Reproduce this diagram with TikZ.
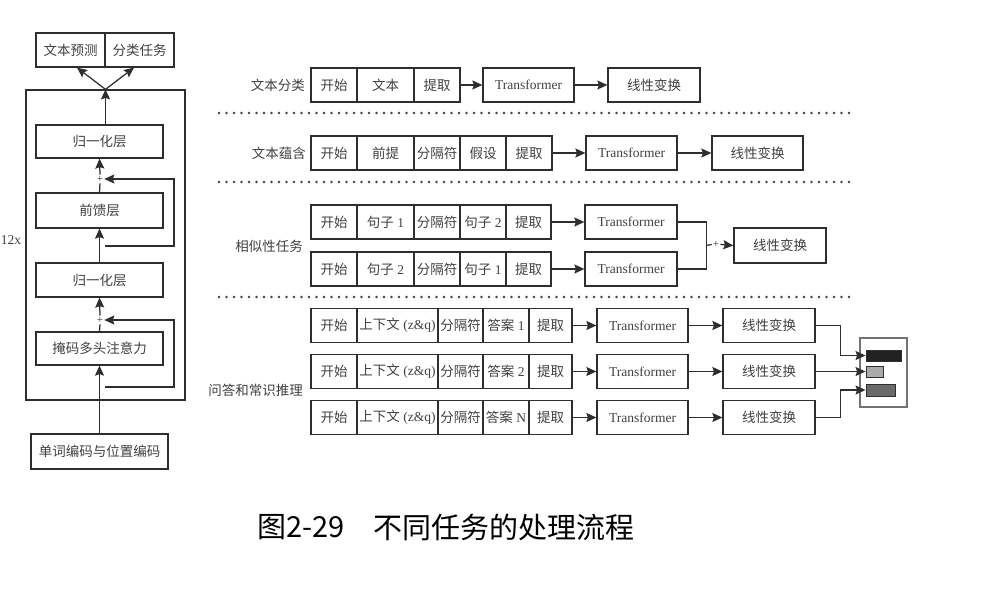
\documentclass[tikz,border=0pt]{standalone}
\usepackage{fontspec}
\setmainfont{Liberation Serif}
\newfontfamily\cjk{Noto Sans CJK SC}
\usetikzlibrary{arrows.meta}
\newcommand\zh[1]{{\cjk #1}}
\definecolor{linec}{HTML}{2E2E2E}
\definecolor{textc}{HTML}{404040}
\definecolor{bardark}{HTML}{222222}
\definecolor{barlight}{HTML}{AAAAAA}
\definecolor{barmid}{HTML}{6A6A6A}
\newcommand\bx[6][]{\node[cell,minimum width=#4pt-#3pt,#1] (#2) at ({(#3+#4)/2},#5) {#6};}
\tikzset{
  cell/.style={draw=linec, line width=1.25pt, inner sep=0pt, minimum height=34pt,
    text=textc, font=\fontsize{13.5}{15}\selectfont},
  lab/.style={inner sep=0pt, text=textc, font=\fontsize{13.5}{15}\selectfont},
  plainline/.style={draw=linec, line width=1.25pt},
  arr/.style={draw=linec, line width=1.25pt, -{Stealth[length=10pt,width=9pt,inset=1.5pt]}},
  plus/.style={inner sep=1pt, text=linec, font=\fontsize{11}{11}\selectfont},
  dots/.style={draw=black!75, line width=2.6pt, line cap=round, dash pattern=on 0pt off 7.5pt},
  bar/.style={draw=linec, line width=0.9pt, inner sep=0pt}
}
\begin{document}
\begin{tikzpicture}[x=1pt,y=-1pt]
\useasboundingbox (0,0) rectangle (982,605);

% ---------- left column ----------
\node[draw=linec, line width=1.25pt, minimum width=159pt, minimum height=310pt, inner sep=0pt] (frame) at (105.5,245) {};
\bx{out1}{36}{105}{50}{\zh{文本预测}}
\bx{out2}{105}{174}{50}{\zh{分类任务}}
\bx[minimum height=33pt]{norm1}{36}{163}{141.5}{\zh{归一化层}}
\bx[minimum height=35pt]{ffn}{36}{163}{210.5}{\zh{前馈层}}
\bx[minimum height=34pt]{norm2}{36}{163}{280}{\zh{归一化层}}
\bx[minimum height=33pt]{attn}{36}{163}{348.5}{\zh{掩码多头注意力}}
\bx[minimum height=35pt]{emb}{31}{168}{451.5}{\zh{单词编码与位置编码}}
\node[plus] (plus1) at (100,179) {+};
\node[plus] (plus2) at (100,320) {+};
\node[inner sep=0pt, text=textc, font=\fontsize{13.5}{15}\selectfont] (rep) at (11,240) {12x};
\coordinate (sk1) at (105,246);
\coordinate (sk2) at (105,387);

\draw[arr] (emb.north) -- (attn.south);
\draw[plainline] (attn.north) -- (plus2.south);
\draw[arr] (plus2.north) -- (norm2.south);
\draw[arr] (sk2) -- ++(69,0) |- (plus2.east);
\draw[arr] (norm2.north) -- (ffn.south);
\draw[plainline] (ffn.north) -- (plus1.south);
\draw[arr] (plus1.north) -- (norm1.south);
\draw[arr] (sk1) -- ++(69,0) |- (plus1.east);
\draw[arr] (norm1.north -| frame.north) -- (frame.north);
\draw[arr] (frame.north) -- ([xshift=6.5pt]out1.south);
\draw[arr] (frame.north) -- ([xshift=-5.5pt]out2.south);

% ---------- dotted separators ----------
\coordinate (d1a) at (219,113); \coordinate (d1b) at (853,113);
\coordinate (d2a) at (219,182); \coordinate (d2b) at (853,182);
\coordinate (d3a) at (219,297); \coordinate (d3b) at (853,297);
\draw[dots] (d1a) -- (d1b);
\draw[dots] (d2a) -- (d2b);
\draw[dots] (d3a) -- (d3b);

% ---------- row 1 ----------
\node[lab, anchor=east] (la) at (305,85) {\zh{文本分类}};
\bx{ra1}{311}{357}{85}{\zh{开始}}
\bx{ra2}{357}{414}{85}{\zh{文本}}
\bx{ra3}{414}{460}{85}{\zh{提取}}
\bx{rat}{483}{574}{85}{Transformer}
\bx{ral}{608}{700}{85}{\zh{线性变换}}
\draw[arr] (ra3.east) -- (rat.west);
\draw[arr] (rat.east) -- (ral.west);

% ---------- row 2 ----------
\node[lab, anchor=east] (lb) at (306,153) {\zh{文本蕴含}};
\bx{rb1}{311}{357}{153}{\zh{开始}}
\bx{rb2}{357}{414}{153}{\zh{前提}}
\bx{rb3}{414}{460}{153}{\zh{分隔符}}
\bx{rb4}{460}{506}{153}{\zh{假设}}
\bx{rb5}{506}{552}{153}{\zh{提取}}
\bx{rbt}{586}{677}{153}{Transformer}
\bx{rbl}{712}{803}{153}{\zh{线性变换}}
\draw[arr] (rb5.east) -- (rbt.west);
\draw[arr] (rbt.east) -- (rbl.west);

% ---------- row 3 ----------
\node[lab, anchor=east] (lc) at (303,246) {\zh{相似性任务}};
\bx{sa1}{311}{357}{222}{\zh{开始}}
\bx{sa2}{357}{414}{222}{\zh{句子} 1}
\bx{sa3}{414}{460}{222}{\zh{分隔符}}
\bx{sa4}{460}{506}{222}{\zh{句子} 2}
\bx{sa5}{506}{551}{222}{\zh{提取}}
\bx{sat}{585}{677}{222}{Transformer}
\bx{sb1}{311}{357}{269}{\zh{开始}}
\bx{sb2}{357}{414}{269}{\zh{句子} 2}
\bx{sb3}{414}{460}{269}{\zh{分隔符}}
\bx{sb4}{460}{506}{269}{\zh{句子} 1}
\bx{sb5}{506}{551}{269}{\zh{提取}}
\bx{sbt}{585}{677}{269}{Transformer}
\bx[minimum height=35pt]{sl}{734}{826}{245.5}{\zh{线性变换}}
\draw[arr] (sa5.east) -- (sat.west);
\draw[arr] (sb5.east) -- (sbt.west);
\draw[plainline] (sat.east) -- ++(29,0) |- (sbt.east);
\coordinate (sj) at (706,245.5);
\node[plus] (plus3) at (716,244.5) {+};
\draw[plainline] (sj) -- (plus3.west);
\draw[arr] (plus3.east) -- (sl.west);

% ---------- row 4 ----------
\node[lab, anchor=east] (ld) at (303,390) {\zh{问答和常识推理}};
\bx{qa1}{311}{357}{325.5}{\zh{开始}}
\bx{qa2}{357}{438}{325.5}{\zh{上下文} (z\&q)}
\bx{qa3}{438}{483}{325.5}{\zh{分隔符}}
\bx{qa4}{483}{529}{325.5}{\zh{答案} 1}
\bx{qa5}{529}{572}{325.5}{\zh{提取}}
\bx{qat}{597}{688}{325.5}{Transformer}
\bx{qal}{723}{815}{325.5}{\zh{线性变换}}
\bx{qb1}{311}{357}{371.5}{\zh{开始}}
\bx{qb2}{357}{438}{371.5}{\zh{上下文} (z\&q)}
\bx{qb3}{438}{483}{371.5}{\zh{分隔符}}
\bx{qb4}{483}{529}{371.5}{\zh{答案} 2}
\bx{qb5}{529}{572}{371.5}{\zh{提取}}
\bx{qbt}{597}{688}{371.5}{Transformer}
\bx{qbl}{723}{815}{371.5}{\zh{线性变换}}
\bx{qc1}{311}{357}{417.5}{\zh{开始}}
\bx{qc2}{357}{438}{417.5}{\zh{上下文} (z\&q)}
\bx{qc3}{438}{483}{417.5}{\zh{分隔符}}
\bx{qc4}{483}{529}{417.5}{\zh{答案} N}
\bx{qc5}{529}{572}{417.5}{\zh{提取}}
\bx{qct}{597}{688}{417.5}{Transformer}
\bx{qcl}{723}{815}{417.5}{\zh{线性变换}}
\foreach \r in {a,b,c}{
  \draw[arr] (q\r5.east) -- (q\r t.west);
  \draw[arr] (q\r t.east) -- (q\r l.west);
}
\node[draw=black!55, line width=1.1pt, minimum width=47pt, minimum height=69pt, inner sep=0pt] (qbox) at (883.5,372.5) {};
\node[bar, fill=bardark, minimum width=35pt, minimum height=11pt] (bar1) at (883.5,355.5) {};
\node[bar, fill=barlight, minimum width=17pt, minimum height=11pt] (bar2) at (874.5,371.5) {};
\node[bar, fill=barmid, minimum width=29pt, minimum height=12pt] (bar3) at (880.5,390) {};
\draw[arr] (qal.east) -- ++(25,0) |- (bar1.west);
\draw[arr] (qbl.east) -- (bar2.west);
\draw[arr] (qcl.east) -- ++(25,0) |- (bar3.west);

% ---------- caption ----------
\node[anchor=west, inner sep=0pt, font=\cjk\fontsize{29}{32}\selectfont] (capa) at (257,527) {图2-29};
\node[anchor=west, inner sep=0pt, font=\cjk\fontsize{29}{32}\selectfont] (capb) at (373,527) {不同任务的处理流程};
\end{tikzpicture}
\end{document}
